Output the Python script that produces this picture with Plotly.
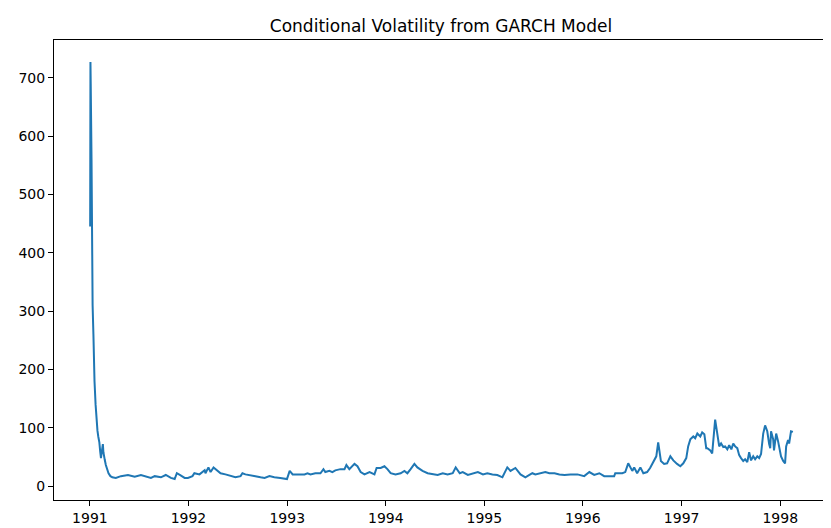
import plotly.graph_objects as go

dates = [
    "1991-01-02", "1991-01-03", "1991-01-04", "1991-01-07", "1991-01-08", "1991-01-09",
    "1991-01-10", "1991-01-11", "1991-01-14", "1991-01-16", "1991-01-18", "1991-01-22",
    "1991-01-25", "1991-01-29", "1991-02-01", "1991-02-05", "1991-02-08", "1991-02-11",
    "1991-02-13", "1991-02-15", "1991-02-18", "1991-02-20", "1991-02-22", "1991-02-25",
    "1991-03-01", "1991-03-05", "1991-03-11", "1991-03-18", "1991-03-25", "1991-04-07",
    "1991-04-26", "1991-05-22", "1991-06-16", "1991-07-09", "1991-08-04", "1991-08-15",
    "1991-08-29", "1991-09-21", "1991-10-09", "1991-10-28", "1991-11-11", "1991-11-19",
    "1991-11-30", "1991-12-18", "1991-12-30",
    "1992-01-16", "1992-01-23", "1992-02-11", "1992-03-01", "1992-03-04", "1992-03-15",
    "1992-03-23", "1992-04-03", "1992-04-10", "1992-04-29", "1992-05-17", "1992-06-05",
    "1992-06-23", "1992-07-12", "1992-07-19", "1992-07-30", "1992-08-18", "1992-09-05",
    "1992-09-24", "1992-10-09", "1992-10-27", "1992-11-14", "1992-12-06", "1992-12-31",
    "1993-01-10", "1993-01-21", "1993-02-09", "1993-03-06", "1993-03-17", "1993-03-28",
    "1993-04-15", "1993-05-04", "1993-05-15", "1993-05-22", "1993-06-06", "1993-06-17",
    "1993-06-28", "1993-07-17", "1993-08-01", "1993-08-08", "1993-08-19", "1993-09-07",
    "1993-09-18", "1993-09-30", "1993-10-14", "1993-11-02", "1993-11-20", "1993-11-28",
    "1993-12-13", "1993-12-27",
    "1994-01-07", "1994-01-19", "1994-02-06", "1994-02-25", "1994-03-11", "1994-03-22",
    "1994-04-03", "1994-04-17", "1994-04-28", "1994-05-17", "1994-06-05", "1994-06-23",
    "1994-07-12", "1994-07-31", "1994-08-18", "1994-09-06", "1994-09-17", "1994-10-02",
    "1994-10-13", "1994-11-01", "1994-11-20", "1994-12-08", "1994-12-27",
    "1995-01-12", "1995-01-31", "1995-02-18", "1995-03-09", "1995-03-16", "1995-03-27",
    "1995-04-08", "1995-04-26", "1995-05-15", "1995-06-02", "1995-06-17", "1995-06-28",
    "1995-07-09", "1995-07-28", "1995-08-15", "1995-08-30", "1995-09-18", "1995-10-06",
    "1995-10-25", "1995-11-16", "1995-12-12",
    "1996-01-06", "1996-01-25", "1996-02-12", "1996-03-02", "1996-03-20", "1996-04-26",
    "1996-04-30", "1996-05-26", "1996-06-06", "1996-06-17", "1996-07-02", "1996-07-09",
    "1996-07-20", "1996-08-01", "1996-08-12", "1996-08-26", "1996-09-06", "1996-09-18",
    "1996-09-29", "1996-10-06", "1996-10-16", "1996-10-28", "1996-11-08", "1996-11-20",
    "1996-12-01", "1996-12-15", "1996-12-27",
    "1997-01-07", "1997-01-18", "1997-01-25", "1997-02-02", "1997-02-13", "1997-02-20",
    "1997-02-28", "1997-03-11", "1997-03-18", "1997-03-26", "1997-04-02", "1997-04-06",
    "1997-04-17", "1997-04-24", "1997-05-05", "1997-05-12", "1997-05-20", "1997-05-27",
    "1997-06-04", "1997-06-11", "1997-06-19", "1997-06-26", "1997-07-04", "1997-07-11",
    "1997-07-18", "1997-07-26", "1997-08-02", "1997-08-09", "1997-08-17", "1997-08-24",
    "1997-09-01", "1997-09-08", "1997-09-15", "1997-09-23", "1997-09-30", "1997-10-08",
    "1997-10-15", "1997-10-22", "1997-10-30", "1997-11-06", "1997-11-14", "1997-11-21",
    "1997-11-25", "1997-11-28", "1997-12-06", "1997-12-09", "1997-12-17", "1997-12-24",
    "1997-12-28",
    "1998-01-04", "1998-01-12", "1998-01-19", "1998-01-23", "1998-01-30", "1998-02-03",
    "1998-02-10", "1998-02-17",
]

volatility = [
    445, 727, 690, 560, 480, 420,
    360, 310, 260, 210, 180, 140,
    115, 95, 85, 75, 60, 48,
    55, 70, 72, 58, 50, 45,
    36, 29, 22, 17, 15, 14,
    17, 19, 16, 19, 16, 14,
    17, 15, 19, 14, 12, 22,
    19, 14, 14,
    17, 22, 20, 27, 22, 32,
    24, 32, 29, 22, 20, 17,
    15, 17, 22, 20, 19, 17,
    15, 14, 17, 15, 14, 12,
    26, 20, 20, 20, 22, 20,
    22, 22, 29, 24, 26, 24,
    27, 29, 29, 36, 29, 38,
    34, 24, 20, 24, 20, 31,
    31, 34,
    29, 22, 20, 22, 26, 22,
    29, 38, 32, 26, 22, 20,
    19, 22, 20, 22, 32, 22,
    24, 19, 22, 24, 20,
    22, 20, 19, 15, 22, 32,
    26, 31, 20, 15, 19, 22,
    20, 22, 24, 22, 22, 20,
    19, 20, 20,
    17, 24, 19, 22, 17, 17,
    22, 22, 24, 39, 26, 32,
    22, 32, 22, 24, 31, 41,
    51, 75, 43, 38, 39, 51,
    44, 38, 34,
    39, 48, 68, 80, 85, 82,
    90, 85, 92, 89, 65, 65,
    61, 56, 114, 94, 68, 73,
    67, 68, 63, 70, 63, 73,
    68, 65, 53, 48, 43, 46,
    41, 58, 44, 51, 46, 51,
    48, 55, 90, 104, 94, 72,
    65, 94, 80, 61, 90, 77,
    68,
    51, 43, 39, 68, 79, 73,
    94, 93,
]

title_text = "Conditional Volatility from GARCH Model"
x_tick_vals = ["1991-01-01", "1992-01-01", "1993-01-01", "1994-01-01",
               "1995-01-01", "1996-01-01", "1997-01-01", "1998-01-01"]
x_tick_text = ["1991", "1992", "1993", "1994", "1995", "1996", "1997", "1998"]
y_tick_vals = [0, 100, 200, 300, 400, 500, 600, 700]

fig = go.Figure()
fig.add_trace(go.Scatter(
    x=dates, y=volatility, mode="lines",
    line=dict(color="#1f77b4", width=2),
    showlegend=False,
))

axis_common = dict(
    showline=True, mirror=True, linecolor="black", linewidth=1,
    ticks="outside", ticklen=5, tickwidth=1, tickcolor="black",
    showgrid=False, zeroline=False,
    tickfont=dict(family="DejaVu Sans", size=14, color="black"),
)

fig.update_layout(
    width=831, height=528,
    margin=dict(l=46, r=10, t=32, b=34),
    paper_bgcolor="white", plot_bgcolor="white",
    title=dict(text=title_text, x=0.5, xref="paper", xanchor="center",
               y=1 - 18 / 528, yanchor="middle",
               font=dict(family="DejaVu Sans", size=17, color="black")),
    xaxis=dict(range=["1990-08-21", "1998-06-27"], tickvals=x_tick_vals,
               ticktext=x_tick_text, **axis_common),
    yaxis=dict(range=[-23.9, 764.9], tickvals=y_tick_vals, **axis_common),
)

fig.write_html("out.html")
